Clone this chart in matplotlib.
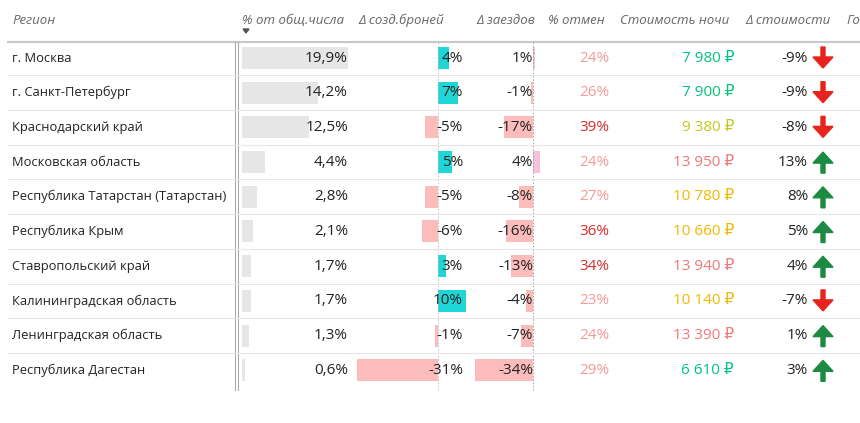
import matplotlib.pyplot as plt
from matplotlib.patches import Rectangle, FancyArrow

regions = ['г. Москва', 'г. Санкт-Петербург', 'Краснодарский край', 'Московская область',
           'Республика Татарстан (Татарстан)', 'Республика Крым', 'Ставропольский край',
           'Калининградская область', 'Ленинградская область', 'Республика Дагестан']
share = [19.9, 14.2, 12.5, 4.4, 2.8, 2.1, 1.7, 1.7, 1.3, 0.6]
d_book = [4, 7, -5, 5, -5, -6, 3, 10, -1, -31]
d_checkin = [1, -1, -17, 4, -8, -16, -13, -4, -7, -34]
cancel = [24, 26, 39, 24, 27, 36, 34, 23, 24, 29]
price = [7980, 7900, 9380, 13950, 10780, 10660, 13940, 10140, 13390, 6610]
d_price = [-9, -9, -8, 13, 8, 5, 4, -7, 1, 3]
headers = ['Регион', '% от общ.числа', 'Δ созд.броней', 'Δ заездов', '% отмен',
           'Стоимость ночи', 'Δ стоимости', 'Го']

plt.rcParams['font.family'] = ['Open Sans', 'DejaVu Sans']
fig = plt.figure(figsize=(8.6, 4.23), dpi=100)
ax = fig.add_axes([0, 0, 1, 1])
ax.set_xlim(0, 860)
ax.set_ylim(423, 0)
ax.axis('off')

hc = '#666666'
hx = [12, 242, 358, 476, 548, 620, 745, 846]
for x, h in zip(hx, headers):
    ax.text(x, 20, h, fontsize=9.5, style='italic', color=hc, va='center', ha='left')
ax.fill([243, 249, 246], [29, 29, 33], color='#555555')
ax.plot([8, 860], [42, 42], color='#c8c8c8', lw=1.5)

row_h = 34.7
y0 = 58
for x in [235, 238]:
    ax.plot([x, x], [42, 390], color='#aaaaaa', lw=0.8)
ax.plot([438, 438], [42, 390], color='#bbbbbb', lw=0.6, ls=(0, (2, 2)))
ax.plot([533, 533], [42, 390], color='#999999', lw=0.6, ls=(0, (2, 2)))


def price_color(p):
    if p < 9000:
        return '#00c47a'
    if p < 10000:
        return '#c2c81e'
    if p < 13000:
        return '#f2b700'
    return '#f07878'


for i, r in enumerate(regions):
    y = y0 + i * row_h
    if i < len(regions) - 1:
        ax.plot([8, 860], [y + row_h / 2, y + row_h / 2], color='#e6e6e6', lw=0.8)
    ax.text(12, y, r, fontsize=9.3, va='center', color='#222222')
    ax.add_patch(Rectangle((242, y - 11), share[i] * 5.33, 22, color='#e6e6e6', lw=0))
    ax.text(348, y, f'{share[i]:.1f}%'.replace('.', ','), fontsize=11, ha='right', va='center', color='#222222')
    b = d_book[i]
    ax.add_patch(Rectangle((438, y - 11), b * (2.8 if b > 0 else 2.6), 22,
                           color='#1fd6d6' if b > 0 else '#fcbcbc', lw=0))
    ax.text(463, y, f'{b}%', fontsize=11, ha='right', va='center', color='#222222')
    c = d_checkin[i]
    ax.add_patch(Rectangle((533, y - 11), c * 1.7, 22,
                           color='#f5c2dc' if c > 0 else '#fcbcbc', lw=0))
    ax.text(533, y, f'{c}%', fontsize=11, ha='right', va='center', color='#222222')
    ax.text(609, y, f'{cancel[i]}%', fontsize=11, ha='right', va='center',
            color='#d42b2b' if cancel[i] >= 30 else '#f59a9a')
    ax.text(734, y, f'{price[i]:,} ₽'.replace(',', ' '), fontsize=11, ha='right', va='center',
            color=price_color(price[i]))
    d = d_price[i]
    ax.text(808, y, f'{d}%', fontsize=11, ha='right', va='center', color='#222222')
    if d < 0:
        ax.add_patch(FancyArrow(823, y - 11, 0, 21, width=4, head_width=20, head_length=11,
                                length_includes_head=True, color='#e8231e'))
    else:
        ax.add_patch(FancyArrow(823, y + 11, 0, -21, width=4, head_width=20, head_length=11,
                                length_includes_head=True, color='#1c8a43'))

fig.savefig('out.png', dpi=100)
